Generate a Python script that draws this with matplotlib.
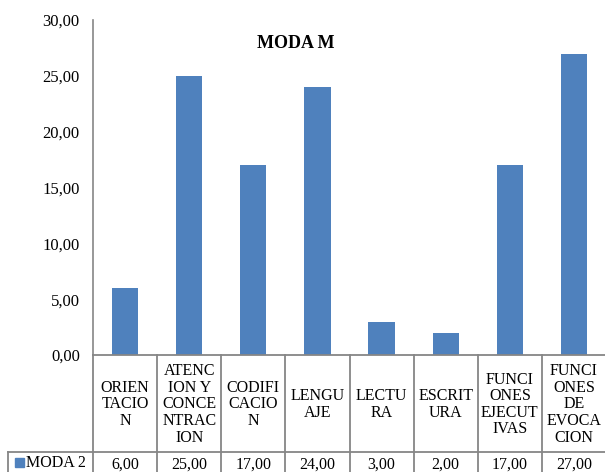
import matplotlib
matplotlib.use("Agg")
import matplotlib.pyplot as plt
from matplotlib.lines import Line2D

categories = [
    "ORIEN\nTACIO\nN",
    "ATENC\nION Y\nCONCE\nNTRAC\nION",
    "CODIFI\nCACIO\nN",
    "LENGU\nAJE",
    "LECTU\nRA",
    "ESCRIT\nURA",
    "FUNCI\nONES\nEJECUT\nIVAS",
    "FUNCI\nONES\nDE\nEVOCA\nCION",
]
values = [6.00, 25.00, 17.00, 24.00, 3.00, 2.00, 17.00, 27.00]
series_name = "MODA 2"
title = "MODA M"
yticks = [0, 5, 10, 15, 20, 25, 30]

plt.rcParams["font.family"] = ["Liberation Serif", "DejaVu Serif"]

W, H = 605, 472
fig = plt.figure(figsize=(W / 100, H / 100), dpi=100)

def fx(px):
    return px / W

def fy(py):
    return 1 - py / H

x0, x1 = 93, 606
ytop, ybase = 20, 355
ax = fig.add_axes([fx(x0), fy(ybase), fx(x1) - fx(x0), fy(ytop) - fy(ybase)])
bar_color = "#4f81bd"
n = len(values)
ax.bar(range(n), values, width=0.41, color=bar_color)
ax.set_xlim(-0.5, n - 0.5)
ax.set_ylim(0, 30)
ax.set_yticks(yticks)
ax.set_yticklabels([f"{v:.2f}".replace(".", ",") for v in yticks], fontsize=12)
ax.tick_params(axis="y", length=0, pad=9.5)
ax.set_xticks([])
for s in ["top", "right", "bottom"]:
    ax.spines[s].set_visible(False)
ax.spines["left"].set_color("#868686")
ax.spines["left"].set_linewidth(1.2)
ax.text(0.396, 0.931, title, transform=ax.transAxes, ha="center", va="center",
        fontsize=13, fontweight="bold")

# data table under the plot
grid = "#868686"
col_w = (x1 - x0) / n
yrow1, yrow2 = 452, 473
def hline(xa, xb, y):
    fig.add_artist(Line2D([fx(xa), fx(xb)], [fy(y), fy(y)], color=grid, lw=1.3))
def vline(x, ya, yb):
    fig.add_artist(Line2D([fx(x), fx(x)], [fy(ya), fy(yb)], color=grid, lw=1.3))

hline(x0, x1, ybase)
hline(8, x1, yrow1)
for i in range(n + 1):
    vline(x0 + i * col_w, ybase, yrow2)
vline(8, yrow1, yrow2)

for i, (lab, v) in enumerate(zip(categories, values)):
    cx = x0 + (i + 0.5) * col_w
    fig.text(fx(cx), fy((ybase + yrow1) / 2 + 1), lab, ha="center", va="center",
             fontsize=11.5, linespacing=1.05)
    fig.text(fx(cx), fy((yrow1 + yrow2) / 2 + 2), f"{v:.2f}".replace(".", ","),
             ha="center", va="center", fontsize=11.5)

fig.add_artist(plt.Rectangle((fx(15), fy(467)), fx(9), fy(458) - fy(467),
                             color=bar_color))
fig.text(fx(26), fy(463), series_name, ha="left", va="center", fontsize=11.5)

fig.savefig("out.png", dpi=100)
